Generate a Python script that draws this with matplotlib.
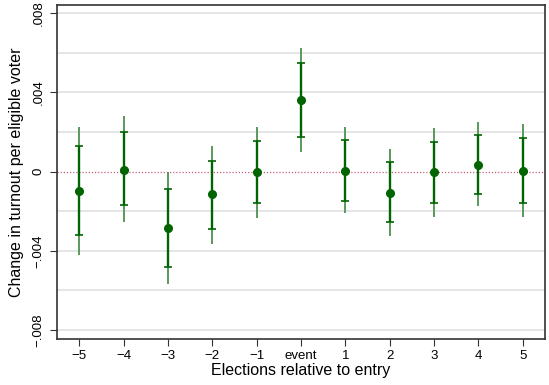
import numpy as np
import matplotlib
matplotlib.use("Agg")
import matplotlib.pyplot as plt

plt.rcParams["font.family"] = ["Liberation Sans", "DejaVu Sans"]

# data
labels = ["\u22125", "\u22124", "\u22123", "\u22122", "\u22121", "event",
          "1", "2", "3", "4", "5"]
est = [-0.00096, 0.0001, -0.00287, -0.00116, -0.00005, 0.00362,
       0.00005, -0.00106, -0.00005, 0.00035, 0.00005]
inner_lo = [-0.00322, -0.0017, -0.00483, -0.00292, -0.00161, 0.00176,
            -0.00151, -0.00257, -0.00161, -0.00116, -0.00161]
inner_hi = [0.00131, 0.0020, -0.0009, 0.00055, 0.00156, 0.00548,
            0.00161, 0.0005, 0.00151, 0.00186, 0.00171]
outer_lo = [-0.00423, -0.00257, -0.00569, -0.00367, -0.00236, 0.0010,
            -0.00211, -0.00327, -0.00231, -0.00176, -0.00231]
outer_hi = [0.00226, 0.0028, 0.0, 0.0013, 0.00226, 0.00624,
            0.00226, 0.00116, 0.00221, 0.00252, 0.00242]

x = np.arange(-5, 6)
green = "#006400"

fig = plt.figure(figsize=(5.49, 3.85), dpi=100)
ax = fig.add_axes([57 / 549, 1 - 339 / 385, 488 / 549, 334 / 385])

# grid
for g in np.arange(-0.008, 0.0081, 0.002):
    if abs(g) > 1e-9:
        ax.axhline(g, color="#e0e0e0", lw=1.2, zorder=0)
ax.axhline(0, color="#c8607a", lw=0.9, ls=(0, (1, 1.5)), zorder=1)

# outer (lighter) interval
ax.vlines(x, outer_lo, outer_hi, color="#5a9a5a", lw=1.4, zorder=2)
# inner interval with caps
ax.vlines(x, inner_lo, inner_hi, color=green, lw=1.7, zorder=3)
ax.plot(x, inner_lo, ls="none", marker="_", ms=6, mew=1.2, color=green, zorder=3)
ax.plot(x, inner_hi, ls="none", marker="_", ms=6, mew=1.2, color=green, zorder=3)
ax.plot(x, est, ls="none", marker="o", ms=5.5, color=green, zorder=4)

ax.set_xlim(-5.5, 5.5)
ax.set_ylim(-0.00845, 0.0084)
ax.set_xticks(x)
ax.set_xticklabels(labels, fontsize=9.5)
ax.set_yticks([-0.008, -0.004, 0, 0.004, 0.008])
ax.set_yticklabels(["\u2212.008", "\u2212.004", "0", ".004", ".008"],
                   rotation=90, va="center", fontsize=9.5)
ax.tick_params(direction="out", length=5, width=0.8, color="#333333", pad=3)
ax.tick_params(axis="y", pad=4)

for s in ax.spines.values():
    s.set_color("#333333")
    s.set_linewidth(1.2)

ax.set_ylabel("Change in turnout per eligible voter", fontsize=11.5, labelpad=6)
ax.set_xlabel("Elections relative to entry", fontsize=11.5, labelpad=1)

fig.savefig("out.png", dpi=100)
